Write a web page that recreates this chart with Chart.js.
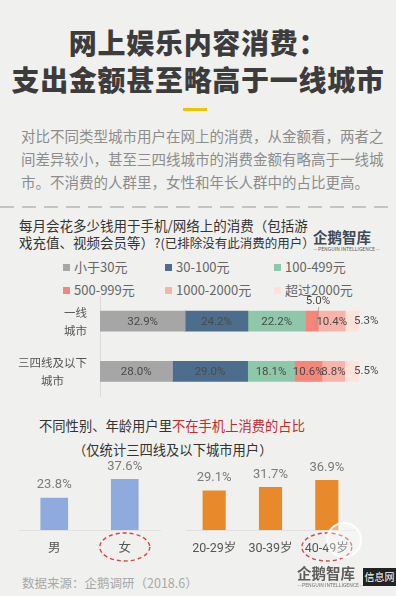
<!DOCTYPE html>
<html lang="zh">
<head>
<meta charset="utf-8">
<script src="https://cdn.jsdelivr.net/npm/chart.js@4"></script>
<style>
    html, body { margin: 0; padding: 0; }
    body {
        width: 396px; height: 596px; position: relative; overflow: hidden;
        background: #f0f1ee;
        font-family: "Noto Sans CJK SC", sans-serif;
    }
    .abs { position: absolute; white-space: nowrap; }
    #title {
        left: 0; width: 396px; top: 24px; text-align: center;
        font-size: 28px; font-weight: 900; line-height: 37px;
        color: #3c3c3c; letter-spacing: 0.7px;
    }
    #bar { left: 183px; top: 108px; width: 24px; height: 3px; background: #f2c200; }
    #intro { left: 21px; top: 124px; font-size: 14.5px; line-height: 23px; color: #8c8c8c; }
    #dash {
        left: 0; top: 206px; width: 396px; height: 2px;
        background: repeating-linear-gradient(to right, #c4c4c4 0 14px, transparent 14px 22px);
    }
    #question { left: 19px; top: 217px; font-size: 13.5px; line-height: 17px; color: #333; }
    #question small { font-size: 12.5px; }
    #logo1 { left: 313px; top: 227px; font-size: 14.5px; font-weight: bold; color: #3d4a57; line-height: 19px; }
    #logo1 i, #logo2 i { display: block; font-style: normal; font-size: 5px; line-height: 6px; font-weight: normal; text-align: center; color: #555; }
    .leg { font-size: 13px; color: #666; line-height: 16px; }
    .leg b { display: inline-block; width: 7px; height: 7px; margin-right: 4px; vertical-align: 1px; }
    #title2 { left: 39px; top: 417px; font-size: 13.3px; line-height: 18px; color: #333; }
    #title2 span { color: #c8282d; }
    #title3 { left: 73px; top: 441px; font-size: 13.3px; line-height: 18px; color: #333; }
    #source { left: 22px; top: 575px; font-size: 12.5px; line-height: 16px; color: #a8a8a8; }
    #logo2 { left: 297px; top: 563px; font-size: 14.5px; font-weight: bold; color: #444; line-height: 19px; opacity: 0.85; }
    #site { left: 363px; top: 568px; width: 33px; height: 18px; background: #222; color: #fff; font-size: 10px; line-height: 18px; text-align: center; }
    #stamp { left: 326px; top: 522px; width: 32px; height: 32px; border-radius: 50%; border: 2px solid rgba(255,255,255,0.85); background: rgba(255,255,255,0.35); }
    canvas { position: absolute; }
</style>
</head>
<body>
<div id="title" class="abs">网上娱乐内容消费：<br>支出金额甚至略高于一线城市</div>
<div id="bar" class="abs"></div>
<div id="intro" class="abs">对比不同类型城市用户在网上的消费，从金额看，两者之<br>间差异较小，甚至三四线城市的消费金额有略高于一线城<br>市。不消费的人群里，女性和年长人群中的占比更高。</div>
<div id="dash" class="abs"></div>
<div id="question" class="abs">每月会花多少钱用于手机/网络上的消费（包括游<br>戏充值、视频会员等）?<small>(已排除没有此消费的用户）</small></div>
<div id="logo1" class="abs">企鹅智库<i>—PENGUIN INTELLIGENCE—</i></div>
<div id="legend"></div>

<canvas id="spendChart" width="396" height="110" style="left:0;top:290px"></canvas>

<div id="title2" class="abs">不同性别、年龄用户里<span>不在手机上消费的占比</span></div>
<div id="title3" class="abs">（仅统计三四线及以下城市用户）</div>

<canvas id="genderChart" width="176" height="125" style="left:0;top:440px"></canvas>
<canvas id="ageChart" width="220" height="125" style="left:176px;top:440px"></canvas>

<div id="stamp" class="abs"></div>
<div id="source" class="abs">数据来源：企鹅调研（2018.6）</div>
<div id="logo2" class="abs">企鹅智库<i>—PENGUIN INTELLIGENCE—</i></div>
<div id="site" class="abs">信息网</div>

<script>
// 数据 - 每月网络消费金额分布（%）
var cityLabels = [['一线', '城市'], ['三四线及以下', '城市']];
var bandNames = ['小于30元', '30-100元', '100-499元', '500-999元', '1000-2000元', '超过2000元'];
var under30 = [32.9, 28.0];
var from30to100 = [24.2, 29.0];
var from100to499 = [22.2, 18.1];
var from500to999 = [5.0, 10.6];
var from1000to2000 = [10.4, 8.8];
var over2000 = [5.3, 5.5];

// 数据 - 不在手机上消费的占比（%）
var genderLabels = ['男', '女'];
var genderNoSpend = [23.8, 37.6];
var ageLabels = ['20-29岁', '30-39岁', '40-49岁'];
var ageNoSpend = [29.1, 31.7, 36.9];

var bandColors = ['#a6a6a6', '#4d6d8c', '#8fc7ab', '#f5877a', '#f9b3a8', '#fde3d9'];

Chart.defaults.font.family = 'Roboto, "Noto Sans CJK SC", sans-serif';
Chart.defaults.animation = false;

// 图例
var legendPos = [[63, 267], [165, 267], [274, 267], [63, 290], [165, 290], [274, 290]];
var legendHtml = '';
bandNames.forEach(function(name, i) {
    legendHtml += '<div class="abs leg" style="left:' + legendPos[i][0] + 'px;top:' + (legendPos[i][1] - 8) +
        'px"><b style="background:' + bandColors[i] + '"></b>' + name + '</div>';
});
document.getElementById('legend').innerHTML = legendHtml;

// 分段数值标签
var segmentLabels = {
    id: 'segmentLabels',
    afterDatasetsDraw: function(chart) {
        var ctx = chart.ctx;
        var last = chart.data.datasets.length - 1;
        ctx.save();
        ctx.font = '11.5px Roboto';
        ctx.fillStyle = '#4a4a4a';
        ctx.textBaseline = 'middle';
        chart.data.datasets.forEach(function(ds, di) {
            chart.getDatasetMeta(di).data.forEach(function(bar, i) {
                var text = ds.data[i].toFixed(1) + '%';
                var w = bar.x - bar.base;
                var cx = (bar.x + bar.base) / 2;
                var tw = ctx.measureText(text).width;
                if (di === last) {
                    ctx.textAlign = 'left';
                    ctx.fillText(text, bar.x - 5, bar.y);
                } else if (tw > w + 6) {
                    var top = bar.y - bar.height / 2;
                    ctx.textAlign = 'center';
                    ctx.fillText(text, cx + 6, top - 10);
                    ctx.strokeStyle = '#999';
                    ctx.lineWidth = 0.8;
                    ctx.beginPath();
                    ctx.moveTo(cx + 7, top - 4);
                    ctx.lineTo(cx + 3, bar.y + bar.height / 2 - 1);
                    ctx.stroke();
                } else {
                    ctx.textAlign = 'center';
                    ctx.fillText(text, cx, bar.y + 1);
                }
            });
        });
        ctx.restore();
    }
};

// 分类标签（每行居中）
var cityTicks = {
    id: 'cityTicks',
    afterDraw: function(chart) {
        var ctx = chart.ctx;
        var scale = chart.scales.y;
        ctx.save();
        ctx.font = '11.5px "Noto Sans CJK SC"';
        ctx.fillStyle = '#555';
        ctx.textAlign = 'center';
        ctx.textBaseline = 'middle';
        chart.data.labels.forEach(function(lines, i) {
            var y = scale.getPixelForTick(i);
            var widest = Math.max.apply(null, lines.map(function(l) { return ctx.measureText(l).width; }));
            var cx = scale.right - 13 - widest / 2;
            lines.forEach(function(l, k) {
                ctx.fillText(l, cx, y + (k - (lines.length - 1) / 2) * 18);
            });
        });
        ctx.restore();
    }
};

new Chart(document.getElementById('spendChart'), {
    type: 'bar',
    data: {
        labels: cityLabels,
        datasets: [under30, from30to100, from100to499, from500to999, from1000to2000, over2000].map(function(d, i) {
            return { label: bandNames[i], data: d, backgroundColor: bandColors[i], barThickness: 20 };
        })
    },
    options: {
        responsive: false,
        indexAxis: 'y',
        layout: { padding: { top: 6, bottom: 3.5, right: 37 } },
        scales: {
            x: { stacked: true, display: false, min: 0, max: 100 },
            y: {
                stacked: true,
                grid: { display: false, drawTicks: false },
                border: { display: true, color: '#dcdcdc' },
                ticks: { display: false },
                afterFit: function(scale) { scale.width = 100; }
            }
        },
        plugins: { legend: { display: false }, tooltip: { enabled: false } }
    },
    plugins: [segmentLabels, cityTicks]
});

// 柱顶数值 + 红色虚线圈
var barTopLabels = {
    id: 'barTopLabels',
    afterDatasetsDraw: function(chart) {
        var ctx = chart.ctx;
        var ds = chart.data.datasets[0];
        ctx.save();
        ctx.font = '13px Roboto';
        ctx.fillStyle = '#7a7a7a';
        ctx.textAlign = 'center';
        ctx.textBaseline = 'middle';
        chart.getDatasetMeta(0).data.forEach(function(bar, i) {
            ctx.fillText(ds.data[i].toFixed(1) + '%', bar.x, bar.y - 13);
        });
        var mark = chart.options.plugins.barTopLabels.mark;
        var xs = chart.scales.x;
        ctx.strokeStyle = '#d2484a';
        ctx.lineWidth = 1.4;
        ctx.setLineDash([4, 3]);
        chart.data.labels.forEach(function(l, i) {
            if (mark.indexOf(l) < 0) return;
            ctx.beginPath();
            ctx.ellipse(xs.getPixelForTick(i), xs.top + 17, 25, 14, 0, 0, Math.PI * 2);
            ctx.stroke();
        });
        ctx.restore();
    }
};

function smallBars(id, labels, values, color, thickness, padLeft, padRight, mark) {
    return new Chart(document.getElementById(id), {
        type: 'bar',
        data: {
            labels: labels,
            datasets: [{ data: values, backgroundColor: color, barThickness: thickness }]
        },
        options: {
            responsive: false,
            layout: { padding: { top: 9.3, left: padLeft, right: padRight } },
            scales: {
                x: {
                    grid: { display: false, drawTicks: false },
                    border: { display: true, color: '#e0e0e0' },
                    ticks: { font: { size: 12.5 }, color: '#555', padding: 11 },
                    afterFit: function(scale) { scale.height = 35; }
                },
                y: { display: false, min: 0, max: 60 }
            },
            plugins: {
                legend: { display: false },
                tooltip: { enabled: false },
                barTopLabels: { mark: mark }
            }
        },
        plugins: [barTopLabels]
    });
}

smallBars('genderChart', genderLabels, genderNoSpend, '#8faadc', 27, 19, 16, ['女']);
smallBars('ageChart', ageLabels, ageNoSpend, '#e88a2b', 22.5, 10, 41, ['40-49岁']);
</script>
</body>
</html>
